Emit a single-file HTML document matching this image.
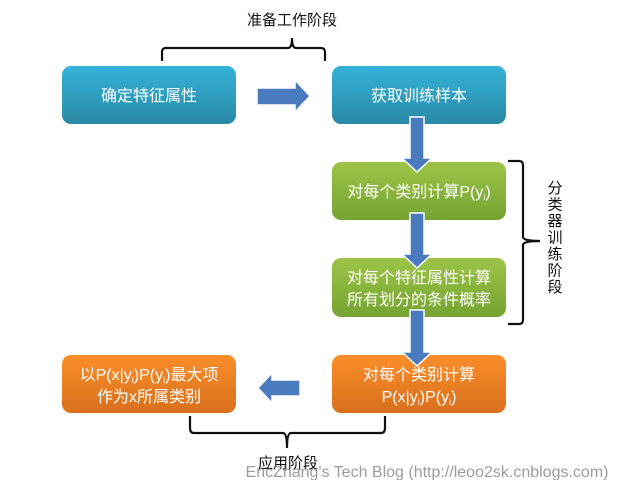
<!DOCTYPE html>
<html><head><meta charset="utf-8"><style>
body{margin:0;background:#fff;}
svg{display:block;}
text{font-family:"Liberation Sans","Noto Sans CJK SC",sans-serif;}
</style></head><body>
<svg width="623" height="480" viewBox="0 0 623 480" xmlns="http://www.w3.org/2000/svg">
<defs>
<linearGradient id="gb" x1="0" y1="0" x2="0" y2="1"><stop offset="0" stop-color="#34b3d8"/><stop offset="1" stop-color="#2a8aa6"/></linearGradient>
<linearGradient id="gg" x1="0" y1="0" x2="0" y2="1"><stop offset="0" stop-color="#9dc447"/><stop offset="1" stop-color="#76a332"/></linearGradient>
<linearGradient id="go" x1="0" y1="0" x2="0" y2="1"><stop offset="0" stop-color="#fb8e2a"/><stop offset="1" stop-color="#d9701c"/></linearGradient>
</defs>
<g fill="none" stroke="#111" stroke-width="2.2">
<path d="M162 61 V52 Q162 48 166 48 H288 Q292 48 292 38 Q292 48 296 48 H321 Q325 48 325 52 V61"/>
<path d="M508 161 H519 Q523 161 523 165 V237 Q523 241 540 241 Q523 241 523 245 V320 Q523 324 519 324 H508"/>
<path d="M190 416 V428 Q190 433 194 433 H283 Q287 433 287 448 Q287 433 291 433 H381 Q385 433 385 428 V416"/>
</g>
<text x="292" y="25" font-size="15" text-anchor="middle" fill="#111">准备工作阶段</text>
<text font-size="15" fill="#111" text-anchor="middle">
<tspan x="555" y="193">分</tspan><tspan x="555" y="209.5">类</tspan><tspan x="555" y="226">器</tspan><tspan x="555" y="242.5">训</tspan><tspan x="555" y="259">练</tspan><tspan x="555" y="275.5">阶</tspan><tspan x="555" y="292">段</tspan>
</text>
<text x="288" y="468" font-size="15" text-anchor="middle" fill="#111">应用阶段</text>
<text x="427" y="477" font-size="16" text-anchor="middle" fill="#8a8a8a" opacity="0.85">EricZhang's Tech Blog (http://leoo2sk.cnblogs.com)</text>

<rect x="62" y="66" width="174" height="58" rx="9" fill="url(#gb)"/>
<rect x="332" y="66" width="174" height="58" rx="9" fill="url(#gb)"/>
<rect x="332" y="162" width="174" height="58" rx="9" fill="url(#gg)"/>
<rect x="332" y="258" width="174" height="59" rx="9" fill="url(#gg)"/>
<rect x="332" y="355" width="174" height="58" rx="9" fill="url(#go)"/>
<rect x="62" y="355" width="174" height="58" rx="9" fill="url(#go)"/>

<g fill="#fff" font-size="16" text-anchor="middle">
<text x="149" y="101">确定特征属性</text>
<text x="419" y="101">获取训练样本</text>
<text x="419" y="197">对每个类别计算P(y<tspan font-size="9" dy="3">i</tspan><tspan dy="-3">)</tspan></text>
<text x="419" y="283">对每个特征属性计算</text>
<text x="419" y="305">所有划分的条件概率</text>
<text x="419" y="380">对每个类别计算</text>
<text x="419" y="402">P(x|y<tspan font-size="9" dy="3">i</tspan><tspan dy="-3">)P(y</tspan><tspan font-size="9" dy="3">i</tspan><tspan dy="-3">)</tspan></text>
<text x="149" y="380">以P(x|y<tspan font-size="9" dy="3">i</tspan><tspan dy="-3">)P(y</tspan><tspan font-size="9" dy="3">i</tspan><tspan dy="-3">)最大项</tspan></text>
<text x="149" y="402">作为x所属类别</text>
</g>

<g fill="#4a7bbf" stroke="#fff" stroke-width="1.5">
<path d="M257 88 H295 V80 L310 96 L295 112 V105 H257 Z"/>
<path d="M410 117 H424 V158 H432 L417 172 L402 158 H410 Z"/>
<path d="M410 213 H424 V254 H432 L417 268 L402 254 H410 Z"/>
<path d="M410 310 H424 V352 H432 L417 366 L402 352 H410 Z"/>
<path d="M300 380 H272 V373 L258 388 L272 403 V396 H300 Z"/>
</g>
</svg>
</body></html>
